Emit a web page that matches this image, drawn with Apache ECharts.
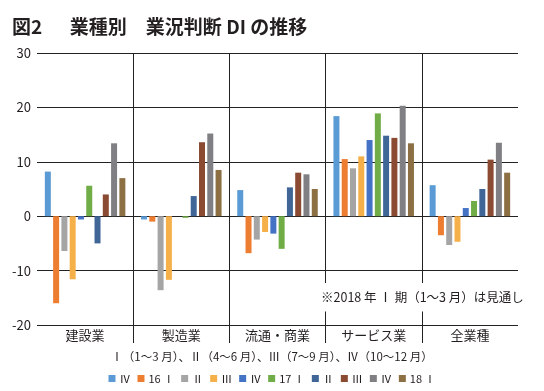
<!DOCTYPE html>
<html><head><meta charset="utf-8">
<script src="https://cdn.jsdelivr.net/npm/echarts@6/dist/echarts.min.js"></script>
<style>html,body{margin:0;padding:0;background:#fff}#c{width:544px;height:391px}</style>
</head><body><div id="c"></div>
<script>
const categories = ['建設業', '製造業', '流通・商業', 'サービス業', '全業種'];
const seriesNames = ['2015 Ⅳ', '2016 Ⅰ', '2016 Ⅱ', '2016 Ⅲ', '2016 Ⅳ', '2017 Ⅰ', '2017 Ⅱ', '2017 Ⅲ', '2017 Ⅳ', '2018 Ⅰ'];
const legendLabels = ['Ⅳ', '16 Ⅰ', 'Ⅱ', 'Ⅲ', 'Ⅳ', '17 Ⅰ', 'Ⅱ', 'Ⅲ', 'Ⅳ', '18 Ⅰ'];
const q15_4 = [8.2, -0.6, 4.8, 18.4, 5.7];
const q16_1 = [-16.0, -1.0, -6.8, 10.5, -3.5];
const q16_2 = [-6.4, -13.6, -4.3, 8.8, -5.3];
const q16_3 = [-11.6, -11.7, -2.9, 11.0, -4.7];
const q16_4 = [-0.6, 0, -3.2, 14.0, 1.5];
const q17_1 = [5.6, -0.3, -6.0, 18.9, 2.8];
const q17_2 = [-5.0, 3.7, 5.3, 14.8, 5.0];
const q17_3 = [4.0, 13.6, 8.0, 14.4, 10.4];
const q17_4 = [13.4, 15.2, 7.7, 20.3, 13.5];
const q18_1 = [7.0, 8.5, 5.0, 13.4, 8.0];
const yTicks = [-20, -10, 0, 10, 20, 30];
const seriesValues = [q15_4, q16_1, q16_2, q16_3, q16_4, q17_1, q17_2, q17_3, q17_4, q18_1];
const colors = ['#5B9BD5', '#ED7D31', '#A5A5A5', '#F6B04A', '#4472C4', '#70AD47', '#3F6696', '#8B4B32', '#7F7F84', '#8C7043'];

const FONT = '"Noto Sans CJK JP", "Noto Sans", sans-serif';
const TXT = '#231F20';
const chart = echarts.init(document.getElementById('c'), null, {renderer: 'canvas'});
chart.setOption({
  animation: false,
  textStyle: {fontFamily: FONT, color: TXT},
  title: [
    {text: '図2　  業種別　業況判断 DI の推移', left: 7, top: 12,
     textStyle: {fontSize: 19, fontWeight: 'bold', color: TXT, fontFamily: FONT}},
    {text: '※2018 年 Ⅰ 期（1〜3 月）は見通し', left: 316, top: 283, padding: [8, 5],
     backgroundColor: '#fff', z: 10,
     textStyle: {fontSize: 12.5, fontWeight: 'normal', color: TXT, fontFamily: FONT}},
    {text: 'Ⅰ（1〜3 月）、Ⅱ（4〜6 月）、Ⅲ（7〜9 月）、Ⅳ（10〜12 月）', left: 'center', top: 351, padding: 0,
     textStyle: {fontSize: 11.5, fontWeight: 'normal', color: TXT, fontFamily: FONT}}
  ],
  legend: {
    data: seriesNames, bottom: 7, left: 'center', itemWidth: 7, itemHeight: 7, itemGap: 7,
    icon: 'rect', padding: 0,
    formatter: name => legendLabels[seriesNames.indexOf(name)],
    textStyle: {fontSize: 11, color: TXT, fontFamily: FONT, padding: [0, 0, 0, -1]}
  },
  grid: [
    {left: 37, right: 26, top: 53, bottom: 66},
    {left: 37, right: 26, top: 53, bottom: 48}
  ],
  xAxis: [
    {type: 'category', data: categories, gridIndex: 0,
     axisLine: {show: false}, axisTick: {show: false}, splitLine: {show: false},
     axisLabel: {fontSize: 13, color: TXT, margin: 4, fontFamily: FONT}},
    {type: 'category', data: categories, gridIndex: 1,
     axisLine: {show: false}, axisTick: {show: false}, axisLabel: {show: false},
     splitLine: {show: true, showMinLine: false, showMaxLine: false, lineStyle: {color: '#222', width: 1}}}
  ],
  yAxis: [
    {type: 'value', gridIndex: 0, min: yTicks[0], max: yTicks[yTicks.length - 1], interval: 10,
     axisLine: {show: false}, axisTick: {show: false},
     axisLabel: {fontSize: 13, color: TXT, margin: 6, fontFamily: FONT},
     splitLine: {show: true, lineStyle: {color: '#222', width: 1}}},
    {type: 'value', gridIndex: 1, show: false}
  ],
  series: seriesNames.map((n, i) => ({
    name: n, type: 'bar', xAxisIndex: 0, yAxisIndex: 0,
    data: seriesValues[i], barWidth: 6, barGap: '38%',
    itemStyle: {color: colors[i]}
  }))
});
</script></body></html>
